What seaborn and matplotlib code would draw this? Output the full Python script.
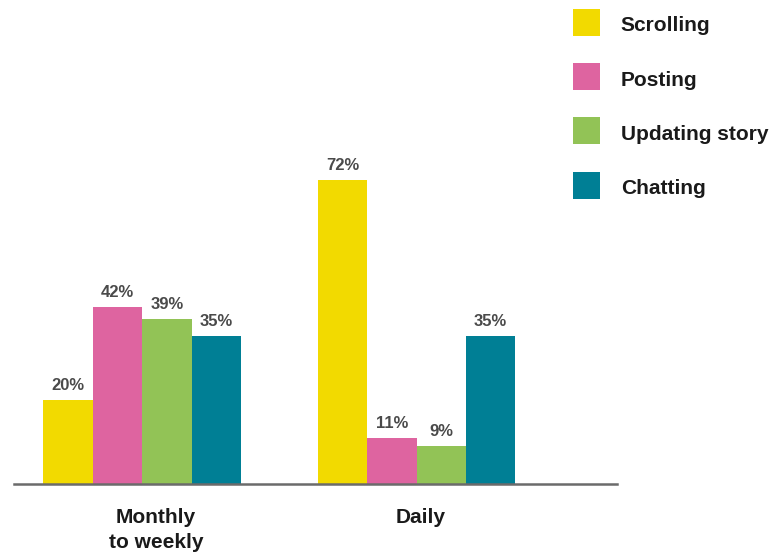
import matplotlib
matplotlib.use("Agg")
import matplotlib.pyplot as plt
import matplotlib.transforms as mtransforms
import seaborn as sns
import pandas as pd

categories = ["Monthly\nto weekly", "Daily"]
activities = ["Scrolling", "Posting", "Updating story", "Chatting"]
values = {
    "Scrolling": [20, 72],
    "Posting": [42, 11],
    "Updating story": [39, 9],
    "Chatting": [35, 35],
}
colors = ["#F2DA00", "#DE64A0", "#92C356", "#007F95"]

rows = []
for act in activities:
    for cat, v in zip(categories, values[act]):
        rows.append({"category": cat, "activity": act, "value": v})
df = pd.DataFrame(rows)

sns.set_theme(style="white")
plt.rcParams["font.family"] = ["Liberation Sans", "DejaVu Sans"]

fig = plt.figure(figsize=(7.73, 5.53), dpi=100)
W, H = 773, 553
ax = fig.add_axes([14 / W, 69 / H, 603 / W, 484 / H])

sns.barplot(data=df, x="category", y="value", hue="activity",
            order=categories, hue_order=activities, palette=colors,
            width=0.72, gap=0, linewidth=0, saturation=1, ax=ax,
            legend=True)

ax.set_xlim(-0.467, 1.73)
ax.set_ylim(0, 114.7)

for cont in ax.containers:
    ax.bar_label(cont, labels=[f"{int(round(b.get_height()))}%" for b in cont],
                 padding=5, fontsize=12, fontweight="bold", color="#4a4a4a")

for s in ["top", "left", "right"]:
    ax.spines[s].set_visible(False)
ax.spines["bottom"].set_color("#6b6b6b")
ax.spines["bottom"].set_linewidth(1.8)
ax.set_yticks([])
ax.set_xlabel("")
ax.set_ylabel("")
ax.tick_params(axis="x", length=0, pad=17)
ax.set_xticks(range(len(categories)))
ax.set_xticklabels(categories, fontsize=15, fontweight="bold", color="#1a1a1a",
                   linespacing=1.45, multialignment="center")
for lab, dx in zip(ax.get_xticklabels(), [14, 4]):
    offset = mtransforms.ScaledTranslation(dx / 100, 0, fig.dpi_scale_trans)
    lab.set_transform(lab.get_transform() + offset)

handles, labels = ax.get_legend_handles_labels()
if ax.legend_:
    ax.legend_.remove()
leg = fig.legend(handles, labels, loc="upper left",
                 bbox_to_anchor=(573 / W, 1 - 13 / H),
                 frameon=False, handlelength=1.3, handleheight=1.3,
                 handletextpad=1.0, labelspacing=1.52, borderaxespad=0,
                 borderpad=0,
                 prop={"family": ["Liberation Sans", "DejaVu Sans"],
                       "weight": "bold", "size": 15})
for h in leg.legend_handles:
    h.set_height(27 * 72 / 100)
for t in leg.get_texts():
    t.set_color("#1a1a1a")

fig.savefig("out.png", dpi=100)
